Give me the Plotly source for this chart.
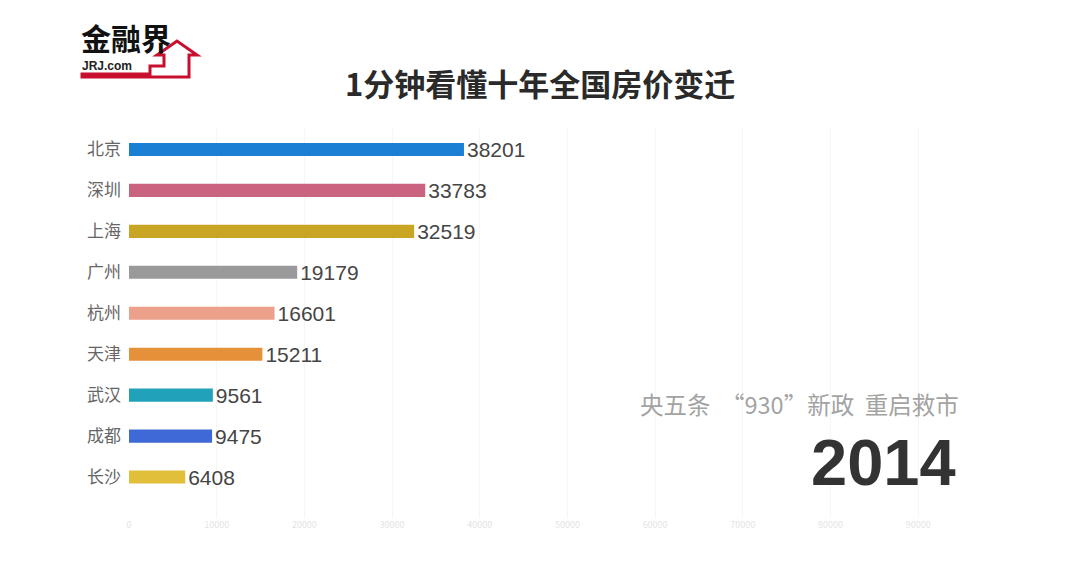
import plotly.graph_objects as go

cities = ["北京", "深圳", "上海", "广州", "杭州", "天津", "武汉", "成都", "长沙"]
prices = [38201, 33783, 32519, 19179, 16601, 15211, 9561, 9475, 6408]
colors = ["#1b7fd3", "#c9637f", "#c8a623", "#9a9a9a", "#eda18b", "#e5913a",
          "#22a1bb", "#3f69d6", "#e2bf3a"]
x_ticks = [0, 10000, 20000, 30000, 40000, 50000, 60000, 70000, 80000, 90000]
title = "1分钟看懂十年全国房价变迁"
event = "央五条  “930”新政  重启救市"
year = "2014"

W, H = 1080, 576
L, R, T, B = 129, 118, 129, 58
pw, ph = W - L - R, H - T - B


def px(x):
    return (x - L) / pw


def py(y):
    return 1 - (y - T) / ph


fig = go.Figure(go.Bar(
    x=prices, y=cities, orientation="h",
    marker=dict(color=colors, line=dict(width=0)),
    width=0.32,
    text=[str(v) for v in prices], textposition="outside", constraintext="none",
    textfont=dict(size=21, color="#454545", family="Liberation Sans Narrow, Liberation Sans, Arial"),
    outsidetextfont=dict(size=21, color="#454545", family="Liberation Sans Narrow, Liberation Sans, Arial"),
    cliponaxis=False,
))

fig.update_layout(
    width=W, height=H,
    margin=dict(l=L, r=R, t=T, b=B),
    paper_bgcolor="white", plot_bgcolor="white",
    showlegend=False,
    font=dict(family="Noto Sans CJK SC, Liberation Sans"),
    xaxis=dict(range=[0, 95000], tickvals=x_ticks, ticktext=[str(v) for v in x_ticks],
               tickfont=dict(size=9, color="#e4e4e4"), showgrid=True,
               gridcolor="#f6f6f6", zeroline=False, showline=False, fixedrange=True),
    yaxis=dict(categoryorder="array", categoryarray=cities, range=[9.0, -0.5],
               tickfont=dict(size=17, color="#666666"), ticks="", ticklabelstandoff=7,
               showgrid=False, zeroline=False, showline=False),
)

annotations = [
    dict(text=f"<b>{title}</b>", x=px(540), y=py(82), xref="paper", yref="paper",
         showarrow=False, font=dict(size=31, color="#2a2a2a"), xanchor="center", yanchor="middle"),
    dict(text=event, x=px(961), y=py(404), xref="paper", yref="paper",
         showarrow=False, font=dict(size=23.5, color="#a3a3a3"), xanchor="right", yanchor="middle"),
    dict(text=f"<b>{year}</b>", x=px(958), y=py(462), xref="paper", yref="paper",
         showarrow=False, font=dict(size=65, color="#333333", family="Liberation Sans, Arial"),
         xanchor="right", yanchor="middle"),
    dict(text="<b>金融界</b>", x=px(80), y=py(37), xref="paper", yref="paper",
         showarrow=False, font=dict(size=30, color="#111111"), xanchor="left", yanchor="middle",
         borderpad=0),
    dict(text="<b>JRJ.com</b>", x=px(81), y=py(66), xref="paper", yref="paper",
         showarrow=False, font=dict(size=12, color="#222222", family="Liberation Sans, Arial"),
         xanchor="left", yanchor="middle", borderpad=0),
]
fig.update_layout(annotations=annotations)


def path(points):
    s = "M " + " L ".join(f"{px(a):.5f},{py(b):.5f}" for a, b in points) + " Z"
    return s


fig.add_shape(type="path", xref="paper", yref="paper",
              path=path([(82, 74), (150, 74), (150, 66), (164, 66), (164, 55), (157, 55),
                         (177, 41), (197, 55), (189, 55), (189, 77), (82, 77)]),
              line=dict(color="#c8102e", width=3), fillcolor="rgba(0,0,0,0)")
fig.add_shape(type="path", xref="paper", yref="paper",
              path=path([(82, 74), (150, 74), (150, 77), (82, 77)]),
              line=dict(color="#c8102e", width=1), fillcolor="#c8102e")

fig.write_html("out.html")
